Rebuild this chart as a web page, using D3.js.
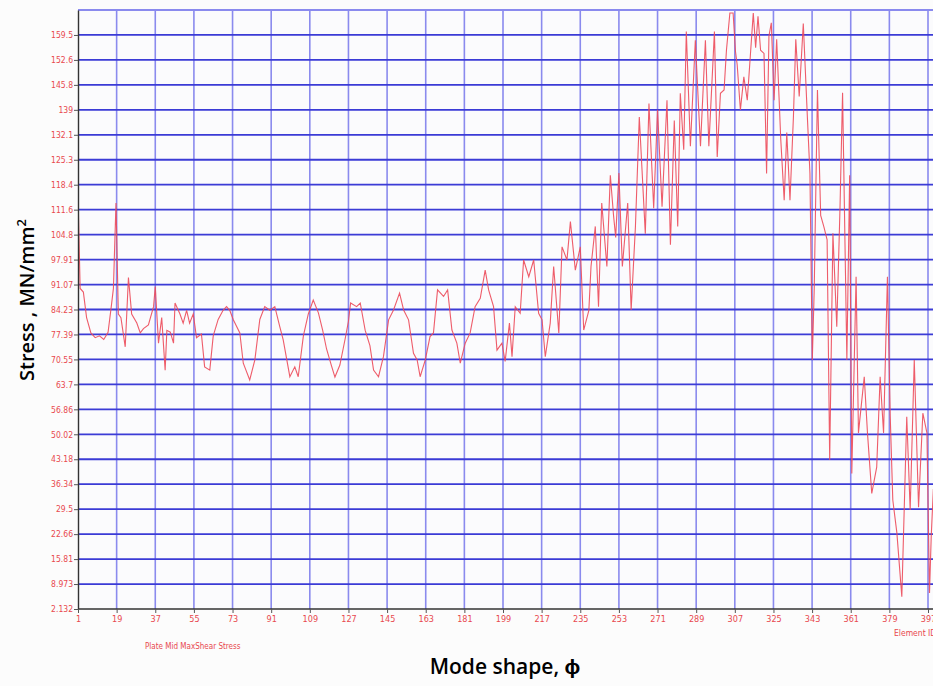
<!DOCTYPE html>
<html>
<head>
<meta charset="UTF-8">
<title>Plate Mid MaxShear Stress</title>
<script src="https://d3js.org/d3.v7.min.js"></script>
<style>
  body { margin: 0; background: #fcfcfc; }
  svg { display: block; }
</style>
</head>
<body>
<svg id="chart" width="933" height="686"></svg>
<script>

// element ids and stress values
var elementIds = [1,2,3.5,5,7,9,11,13,15,16.5,17.5,18.7,19.8,21,23,24.5,26,28.4,30,31.5,33.8,36.2,37,38.5,40,41.6,42.4,44,45.5,46.2,48.5,50,51.6,53,54.7,56.2,58.5,60,62.4,64,66.3,68.6,70.2,71.7,73.3,76.4,78,81,83.4,85.7,88,90.4,92.7,95,96.6,99.7,102,103.6,106,108.3,110.6,113,115,116.8,119,120.7,123,125.4,127,128,130.8,132.5,134.8,137,138.7,141,143.3,145.7,148,150.8,152.7,155,157.3,159,160.4,162.8,165,166.6,168.5,171.3,173.2,175.2,177.5,179.1,181.4,183.7,186,188.4,190.7,192.3,194.6,196.2,198.5,200,202,203.2,204.7,207,208.6,211,213.3,215.6,217.2,218.7,221,222.6,225,226.5,228.8,230.4,232.7,235,236.6,239,240,242,243.5,245,247.4,249,250.5,251.5,253,254.6,257.1,258.7,260.7,262.5,265.3,267,269.2,271,273.1,275.4,277,278.8,280.4,281.6,283.2,284.4,286.3,288.6,291,293.3,294.9,297.5,298.8,300.3,302,303.1,304.7,306.2,307.3,308.1,309.6,311.2,312.8,314.3,315.6,316.7,317.8,319,320.6,321.8,322.9,324,325.3,326.5,328.4,330,331.2,332.7,334.3,335.4,337,338.9,340.8,342,343.1,344,345.5,347,348.5,350,351.2,352.7,354.5,356,357.2,359.2,360.5,361.5,363.5,364.6,365.4,367.3,368.8,370.8,373.1,374.7,376.3,378.1,379.4,380.6,382.5,384.8,387.1,388.7,390.6,392.6,394.6,396.5,397.7,398.5,399.5];
var stress = [116,90,89,82,77.8,76.5,77,76,78,85,90,113.4,83,82,74,93,83,80.5,77.8,79,80,85,90.5,75,82,67.6,78.5,78,75,86,83,80.5,84,80.5,83,76.5,77.5,68.5,67.6,77,81.5,84,85,84,81.5,77.8,69.5,64.9,70.4,81.5,85,84,85,79.5,75.9,65.8,68.5,65.8,77,83,86.8,83.3,78.5,73.4,69,65.7,69,76,81,86,85,86,78.5,74.3,67.6,65.8,71.3,81.4,84.1,88.7,84.1,81.4,72.2,70.4,65.8,70.4,76.8,77.8,89.6,87.8,89.6,78.6,75,69.5,75,77.8,85,87.3,95,89.6,85,73.1,75,70,80.5,71.3,85,83.2,97.8,93.2,97.8,83.2,81.4,71.3,80.5,96,77.8,101.4,97.8,108.3,95,101.4,78.6,84,96,107,85,113.4,96,121,110,104,121.6,96,113.4,84.1,107,137,105,140.7,112,139,112.4,141.6,102,136,107,143.5,128,160.4,129,158,129,158,129,160.4,126,143.5,144.4,155.3,165.5,165.5,155,151.3,138.9,148,141.6,154.4,165.5,156,164.6,155.3,154.4,121.5,159.2,162.8,141.6,158.3,130.9,114.2,132.7,114.2,137,158.3,142.6,162.6,137,121.5,70.4,90,144.4,110,106.9,103.3,43,105.1,79.5,112,143.6,70.4,121,39.3,93.2,50.4,55,65.8,50.4,33.8,41,65.8,50.4,93.2,55,32,23,5.5,54.8,29.3,70.4,30,55.8,50.4,6.5,22,35];

var xTicks = [1,19,37,55,73,91,109,127,145,163,181,199,217,235,253,271,289,307,325,343,361,379,397];
var yTickLabels = ["2.132","8.973","15.81","22.66","29.5","36.34","43.18","50.02","56.86","63.7","70.55","77.39","84.23","91.07","97.91","104.8","111.6","118.4","125.3","132.1","139","145.8","152.6","159.5"];
var yStep = 6.841;

var margin = { top: 10, left: 78, bottom: 77 };
var W = 933, H = 686;
var svg = d3.select("#chart");

var x = d3.scaleLinear().domain([1, 397]).range([margin.left, 928]);
var yMin = +yTickLabels[0];
var yMax = yMin + yTickLabels.length * yStep;
var y = d3.scaleLinear().domain([yMin, yMax]).range([H - margin.bottom, margin.top]);

var yTickVals = yTickLabels.map(function (d, i) { return yMin + i * yStep; });

// plot background
svg.append("rect")
  .attr("x", margin.left).attr("y", margin.top)
  .attr("width", W - margin.left).attr("height", y(yMin) - margin.top)
  .attr("fill", "#fbfbfd");

// vertical grid
svg.append("g").selectAll("line")
  .data(xTicks.slice(1))
  .join("line")
  .attr("x1", function (d) { return x(d); }).attr("x2", function (d) { return x(d); })
  .attr("y1", margin.top).attr("y2", y(yMin))
  .attr("stroke", "#8a8aee").attr("stroke-width", 1.6);

// horizontal grid (incl. top border)
svg.append("g").selectAll("line")
  .data(yTickVals.slice(1).concat([yMax]))
  .join("line")
  .attr("x1", margin.left).attr("x2", W)
  .attr("y1", function (d) { return y(d); }).attr("y2", function (d) { return y(d); })
  .attr("stroke", function (d) { return d === yMax ? "#8a8aee" : "#3b3bd6"; })
  .attr("stroke-width", 1.8);

// stress line
svg.append("clipPath").attr("id", "clip")
  .append("rect").attr("x", margin.left).attr("y", margin.top)
  .attr("width", W - margin.left).attr("height", y(yMin) - margin.top);

var pts = elementIds.map(function (d, i) { return [d, stress[i]]; });
svg.append("path")
  .datum(pts)
  .attr("clip-path", "url(#clip)")
  .attr("fill", "none")
  .attr("stroke", "#ec4a5a")
  .attr("stroke-width", 1.1)
  .attr("stroke-opacity", 0.9)
  .attr("d", d3.line()
    .x(function (d) { return x(d[0]); })
    .y(function (d) { return y(d[1]); }));

// axes
var tickFont = "'Liberation Sans Narrow', 'DejaVu Sans Condensed', sans-serif";

var yAxis = svg.append("g")
  .attr("transform", "translate(" + margin.left + ",0)")
  .call(d3.axisLeft(y).tickValues(yTickVals)
    .tickFormat(function (d, i) { return yTickLabels[i]; })
    .tickSize(4).tickSizeOuter(0));
yAxis.select(".domain").attr("stroke", "#333").attr("stroke-width", 1.4);
yAxis.selectAll(".tick line").attr("stroke", "#555");
yAxis.selectAll("text").attr("fill", "#e8484e")
  .style("font-family", tickFont).style("font-size", "8.5px").attr("x", -5);

var xAxis = svg.append("g")
  .attr("transform", "translate(0," + y(yMin) + ")")
  .call(d3.axisBottom(x).tickValues(xTicks).tickFormat(d3.format("d"))
    .tickSize(4).tickSizeOuter(0));
xAxis.select(".domain").attr("stroke", "#333").attr("stroke-width", 1.4)
  .attr("d", "M" + margin.left + ",0H" + W);
xAxis.selectAll(".tick line").attr("stroke", "#555");
xAxis.selectAll("text").attr("fill", "#e8484e")
  .style("font-family", tickFont).style("font-size", "9px").attr("y", 7);

// small captions
svg.append("text")
  .attr("x", 145).attr("y", 649)
  .attr("fill", "#e8484e")
  .style("font-family", tickFont).style("font-size", "8px")
  .text("Plate Mid MaxShear Stress");

svg.append("text")
  .attr("x", 894).attr("y", 636)
  .attr("fill", "#e8484e")
  .style("font-family", tickFont).style("font-size", "8.5px")
  .text("Element ID");

// axis titles
svg.append("text")
  .attr("x", 505).attr("y", 674)
  .attr("text-anchor", "middle")
  .style("font-family", "'Open Sans', sans-serif")
  .style("font-size", "21px").style("font-weight", "600")
  .text("Mode shape, \u03D5");

var yt = svg.append("text")
  .attr("transform", "translate(34,300) rotate(-90)")
  .attr("text-anchor", "middle")
  .style("font-family", "'Open Sans', sans-serif")
  .style("font-size", "20px").style("font-weight", "600");
yt.append("tspan").text("Stress  , MN/mm");
yt.append("tspan").attr("dy", -8).style("font-size", "13px").text("2");

</script>
</body>
</html>
